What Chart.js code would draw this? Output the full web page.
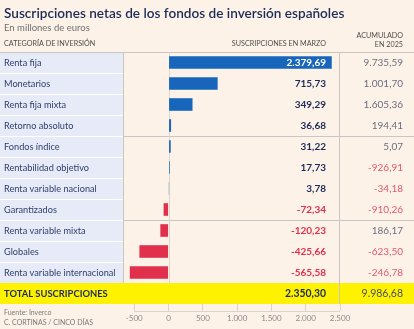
<!DOCTYPE html>
<html lang="es">
<head>
<meta charset="utf-8">
<title>Suscripciones netas de los fondos de inversión españoles</title>
<script src="https://cdn.jsdelivr.net/npm/chart.js@4.4.1/dist/chart.umd.min.js"></script>
<style>
  html, body { margin: 0; padding: 0; background: #fdf2e8; }
  #wrap { position: relative; width: 414px; height: 329px; }
</style>
</head>
<body>
<div id="wrap"><canvas id="fondosChart" width="414" height="329"></canvas></div>
<script>
// DATOS
const categorias = ['Renta fija', 'Monetarios', 'Renta fija mixta', 'Retorno absoluto', 'Fondos índice',
    'Rentabilidad objetivo', 'Renta variable nacional', 'Garantizados', 'Renta variable mixta', 'Globales',
    'Renta variable internacional'];
const suscripcionesMarzo = [2379.69, 715.73, 349.29, 36.68, 31.22, 17.73, 3.78, -72.34, -120.23, -425.66, -565.58];
const acumulado2025 = [9735.59, 1001.70, 1605.36, 194.41, 5.07, -926.91, -34.18, -910.26, 186.17, -623.50, -246.78];
const totalEtiqueta = 'TOTAL SUSCRIPCIONES';
const totalMarzo = 2350.30;
const totalAcumulado = 9986.68;
const ejeValores = [-500, 0, 500, 1000, 1500, 2000, 2500];
const gruposFin = [3, 7]; // filas tras las que va una línea de separación

const FONT = 'Lato, "Open Sans", sans-serif';
const COLORES = {
    azul: '#1766bb', rojo: '#e1304c', navy: '#1c2b57', texto: '#2f3f6c',
    gris: '#6a6f80', rojoSuave: '#e25a6c', columna: '#e7ebf7', amarillo: '#fff200', linea: '#c9c6c6'
};

// formato español: 2.379,69
function fmt(v, dec) {
    const neg = v < 0;
    const partes = Math.abs(v).toFixed(dec).split('.');
    const entero = partes[0].replace(/\B(?=(\d{3})+(?!\d))/g, '.');
    return (neg ? '-' : '') + entero + (dec ? ',' + partes[1] : '');
}

// FONDO, COLUMNAS Y TEXTOS DE LA TABLA
const tablaPlugin = {
    id: 'tabla',
    beforeDraw(chart) {
        const { ctx, chartArea: ca, scales: { x, y } } = chart;
        const W = chart.width;
        const paso = y.getPixelForValue(1) - y.getPixelForValue(0);
        const filaTop = i => y.getPixelForValue(i) - paso / 2;
        const n = categorias.length;
        const tablaTop = filaTop(0), filasBottom = filaTop(n), totalBottom = filaTop(n + 1);

        ctx.save();
        // columna de categorías
        ctx.fillStyle = COLORES.columna;
        ctx.fillRect(0, tablaTop, ca.left, filasBottom - tablaTop);
        ctx.strokeStyle = '#ffffff';
        ctx.lineWidth = 1;
        for (let i = 1; i < n; i++) {
            const yy = Math.round(filaTop(i)) + 0.5;
            ctx.beginPath(); ctx.moveTo(0, yy); ctx.lineTo(ca.left - 1, yy); ctx.stroke();
        }
        // fila del total
        ctx.fillStyle = COLORES.amarillo;
        ctx.fillRect(0, filasBottom, W, totalBottom - filasBottom);

        ctx.strokeStyle = COLORES.linea;
        // línea superior
        ctx.beginPath(); ctx.moveTo(0, Math.round(tablaTop) + 0.5); ctx.lineTo(W, Math.round(tablaTop) + 0.5); ctx.stroke();
        // separadores de grupos
        gruposFin.forEach(g => {
            const yy = Math.round(filaTop(g + 1)) + 0.5;
            ctx.beginPath(); ctx.moveTo(ca.left, yy); ctx.lineTo(W, yy); ctx.stroke();
        });
        // verticales
        const lx = Math.round(ca.left) - 0.5, rx = Math.round(ca.right) - 0.5, zx = Math.round(x.getPixelForValue(0)) + 0.5;
        ctx.beginPath(); ctx.moveTo(lx, tablaTop); ctx.lineTo(lx, filasBottom); ctx.stroke();
        ctx.beginPath(); ctx.moveTo(rx, tablaTop); ctx.lineTo(rx, totalBottom); ctx.stroke();
        ctx.strokeStyle = '#dcd6d2';
        ctx.beginPath(); ctx.moveTo(zx, tablaTop); ctx.lineTo(zx, filasBottom); ctx.stroke();

        // base del eje
        ctx.strokeStyle = '#d8d3cf';
        const by = Math.round(ca.bottom + 7) + 0.5;
        ctx.beginPath();
        ctx.moveTo(x.getPixelForValue(ejeValores[0]), by);
        ctx.lineTo(x.getPixelForValue(ejeValores[ejeValores.length - 1]), by);
        ctx.stroke();

        // títulos
        ctx.textBaseline = 'alphabetic';
        ctx.textAlign = 'left';
        ctx.fillStyle = COLORES.navy;
        ctx.font = '600 13.6px ' + FONT;
        ctx.fillText('Suscripciones netas de los fondos de inversión españoles', 4, 18);
        ctx.fillStyle = '#707070';
        ctx.font = '9.5px ' + FONT;
        ctx.fillText('En millones de euros', 4, 31);

        ctx.fillStyle = '#4d4d4d';
        ctx.font = '7.2px ' + FONT;
        ctx.fillText('CATEGORÍA DE INVERSIÓN', 4, 46);
        ctx.textAlign = 'right';
        ctx.fillText('SUSCRIPCIONES EN MARZO', 326, 46);
        ctx.fillText('ACUMULADO', 403, 38);
        ctx.fillText('EN 2025', 403, 47);

        // pie
        ctx.textAlign = 'left';
        ctx.fillStyle = '#7a7a7a';
        ctx.font = '7px ' + FONT;
        ctx.fillText('Fuente: Inverco', 4, 315);
        ctx.fillText('C. CORTINAS / CINCO DÍAS', 4, 325);
        ctx.restore();
    },
    afterDatasetsDraw(chart) {
        const { ctx, scales: { x, y } } = chart;
        const valX = 326, acuX = 403;
        ctx.save();
        ctx.textBaseline = 'middle';
        categorias.forEach((cat, i) => {
            const cy = y.getPixelForValue(i) + 0.5;
            ctx.textAlign = 'left';
            ctx.font = '9.2px ' + FONT;
            ctx.fillStyle = COLORES.texto;
            ctx.fillText(cat, 4, cy);

            const v = suscripcionesMarzo[i];
            ctx.textAlign = 'right';
            ctx.font = 'bold 10px ' + FONT;
            const dentro = x.getPixelForValue(v) >= valX;
            ctx.fillStyle = dentro ? '#ffffff' : (v < 0 ? COLORES.rojo : COLORES.navy);
            ctx.fillText(fmt(v, 2), valX, cy);

            const a = acumulado2025[i];
            ctx.font = '10px ' + FONT;
            ctx.fillStyle = a < 0 ? COLORES.rojoSuave : COLORES.gris;
            ctx.fillText(fmt(a, 2), acuX, cy);
        });
        const ty = y.getPixelForValue(categorias.length) + 0.5;
        ctx.textAlign = 'left';
        ctx.font = 'bold 9.4px ' + FONT;
        ctx.fillStyle = COLORES.navy;
        ctx.fillText(totalEtiqueta, 4, ty);
        ctx.textAlign = 'right';
        ctx.font = 'bold 10.4px ' + FONT;
        ctx.fillText(fmt(totalMarzo, 2), valX, ty);
        ctx.font = '10.5px ' + FONT;
        ctx.fillStyle = '#4a4f60';
        ctx.fillText(fmt(totalAcumulado, 2), acuX, ty);
        ctx.restore();
    }
};

// GRÁFICO
const ctx = document.getElementById('fondosChart').getContext('2d');
new Chart(ctx, {
    type: 'bar',
    data: {
        labels: [...categorias, totalEtiqueta],
        datasets: [{
            data: [...suscripcionesMarzo, null],
            backgroundColor: suscripcionesMarzo.map(v => v < 0 ? COLORES.rojo : COLORES.azul),
            categoryPercentage: 1,
            barPercentage: 0.6,
            borderWidth: 0
        }]
    },
    options: {
        indexAxis: 'y',
        responsive: false,
        animation: false,
        devicePixelRatio: 1,
        layout: { padding: { left: 124, right: 74, top: 52, bottom: 0 } },
        plugins: { legend: { display: false }, tooltip: { enabled: false } },
        scales: {
            y: { display: false, offset: true },
            x: {
                min: -650,
                max: 2500,
                afterBuildTicks: s => { s.ticks = ejeValores.map(v => ({ value: v })); },
                afterFit: s => { s.height = 25; },
                border: { display: false },
                grid: { drawOnChartArea: false, drawTicks: true, tickLength: 7, color: '#d8d3cf' },
                ticks: {
                    padding: 3,
                    maxRotation: 0,
                    autoSkip: false,
                    color: '#8a8a8a',
                    font: { family: FONT, size: 8 },
                    callback: v => fmt(v, 0)
                }
            }
        }
    },
    plugins: [tablaPlugin]
});
</script>
</body>
</html>
